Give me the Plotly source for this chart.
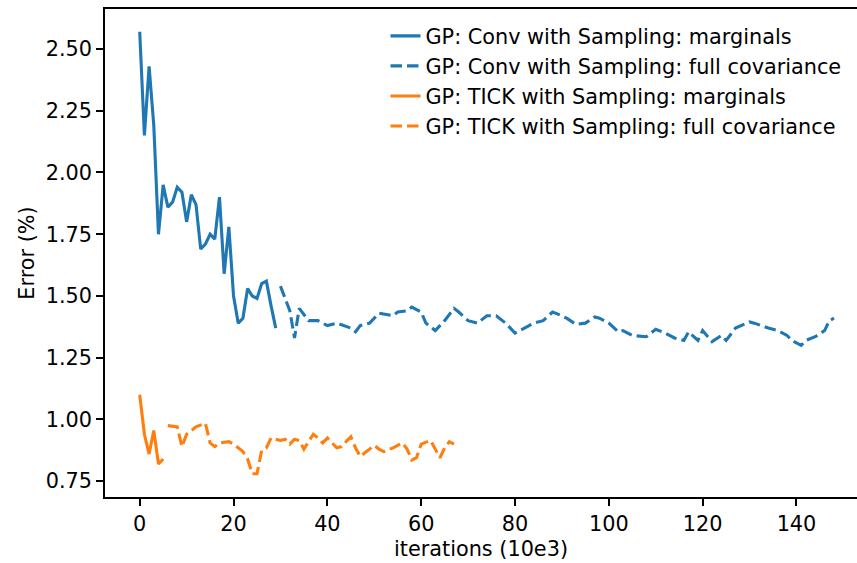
import plotly.graph_objects as go

# ---- data ----
conv_marg_iter = list(range(0, 30))
conv_marg_err = [2.57, 2.15, 2.43, 2.19, 1.75, 1.95, 1.86, 1.88, 1.94, 1.92,
                 1.80, 1.91, 1.87, 1.69, 1.71, 1.75, 1.73, 1.90, 1.59, 1.78,
                 1.50, 1.39, 1.41, 1.53, 1.50, 1.49, 1.55, 1.56, 1.46, 1.37]

conv_full_iter = [30, 32, 33, 34, 36, 38, 40, 42, 45, 46,
                  47, 49, 51, 54, 55, 57, 58, 60, 61, 63,
                  65, 67, 68, 70, 72, 74, 76, 78, 80, 82,
                  84, 86, 88, 90, 91, 93, 95, 97, 98, 100,
                  102, 103, 105, 108, 110, 112, 114, 116, 117, 119,
                  120, 122, 124, 125, 127, 130, 131, 134, 136, 138,
                  139, 141, 142, 144, 146, 147, 148]
conv_full_err = [1.54, 1.44, 1.33, 1.45, 1.40, 1.40, 1.38, 1.39, 1.37, 1.355,
                 1.38, 1.39, 1.43, 1.42, 1.435, 1.44, 1.455, 1.435, 1.39, 1.36,
                 1.40, 1.45, 1.435, 1.40, 1.39, 1.42, 1.42, 1.39, 1.35, 1.37,
                 1.39, 1.40, 1.435, 1.42, 1.41, 1.385, 1.39, 1.415, 1.41, 1.39,
                 1.355, 1.36, 1.34, 1.335, 1.365, 1.35, 1.33, 1.32, 1.355, 1.32,
                 1.36, 1.315, 1.34, 1.32, 1.37, 1.395, 1.39, 1.37, 1.36, 1.34,
                 1.32, 1.30, 1.32, 1.335, 1.36, 1.40, 1.41]

tick_marg_iter = [0, 1, 2, 3, 4, 5]
tick_marg_err = [1.10, 0.94, 0.86, 0.955, 0.82, 0.84]

tick_full_iter = [6, 8, 9, 10, 12, 14, 15, 16, 17, 19,
                  20, 22, 23, 24, 25, 26, 27, 28, 30, 31,
                  32, 33, 34, 35, 37, 38, 39, 40, 42, 43,
                  44, 45, 46, 47, 48, 50, 51, 52, 54, 56,
                  57, 58, 59, 60, 62, 63, 64, 65, 66, 67]
tick_full_err = [0.975, 0.97, 0.89, 0.94, 0.97, 0.985, 0.905, 0.89, 0.905, 0.91,
                 0.90, 0.87, 0.84, 0.78, 0.78, 0.875, 0.885, 0.925, 0.915, 0.92,
                 0.90, 0.92, 0.915, 0.88, 0.94, 0.925, 0.905, 0.925, 0.885, 0.89,
                 0.91, 0.93, 0.885, 0.85, 0.865, 0.895, 0.88, 0.87, 0.885, 0.905,
                 0.88, 0.835, 0.845, 0.90, 0.915, 0.88, 0.845, 0.885, 0.91, 0.90]

series_names = ["GP: Conv with Sampling: marginals",
                "GP: Conv with Sampling: full covariance",
                "GP: TICK with Sampling: marginals",
                "GP: TICK with Sampling: full covariance"]
x_ticks = [0, 20, 40, 60, 80, 100, 120, 140]
y_ticks = [0.75, 1.00, 1.25, 1.50, 1.75, 2.00, 2.25, 2.50]

BLUE = "#1f77b4"
ORANGE = "#ff7f0e"
FONT = "DejaVu Sans"
FS = 20.8
LW = 3.1
DASH = "11.5px,5px"

fig = go.Figure()
series = [
    (conv_marg_iter, conv_marg_err, BLUE, "solid"),
    (conv_full_iter, conv_full_err, BLUE, DASH),
    (tick_marg_iter, tick_marg_err, ORANGE, "solid"),
    (tick_full_iter, tick_full_err, ORANGE, DASH),
]
for i, (xs, ys, col, dash) in enumerate(series):
    fig.add_trace(go.Scatter(
        x=xs, y=ys, mode="lines", name=series_names[i],
        line=dict(color=col, width=LW, dash=dash),
    ))

axis_common = dict(
    showline=True, linecolor="black", linewidth=1.7,
    ticks="outside", ticklen=7, tickwidth=1.7, tickcolor="black",
    showgrid=False, zeroline=False, automargin=False,
    tickfont=dict(family=FONT, size=FS, color="black"),
)

fig.update_layout(
    width=857, height=563,
    margin=dict(l=105, r=0, t=9, b=66),
    paper_bgcolor="white", plot_bgcolor="white",
    font=dict(family=FONT, size=FS, color="black"),
    showlegend=True,
    legend=dict(
        x=0.373, y=0.986, xanchor="left", yanchor="top",
        bgcolor="rgba(255,255,255,0)", borderwidth=0,
        font=dict(family=FONT, size=FS, color="black"),
        tracegroupgap=0,
    ),
    xaxis=dict(
        range=[-7.4, 152.9], tickvals=x_ticks, ticktext=[str(v) for v in x_ticks],
        mirror=True,
        title=dict(text="iterations (10e3)", standoff=7,
                   font=dict(family=FONT, size=FS, color="black")),
        **axis_common,
    ),
    yaxis=dict(
        range=[0.686, 2.662], tickvals=y_ticks, ticktext=[f"{v:.2f}" for v in y_ticks],
        title=dict(text="Error (%)", standoff=5,
                   font=dict(family=FONT, size=FS, color="black")),
        **axis_common,
    ),
)

fig.write_html(
    "out.html",
    config={"displayModeBar": False},
    post_script="document.body.style.margin='0';document.body.style.overflow='hidden';",
)
